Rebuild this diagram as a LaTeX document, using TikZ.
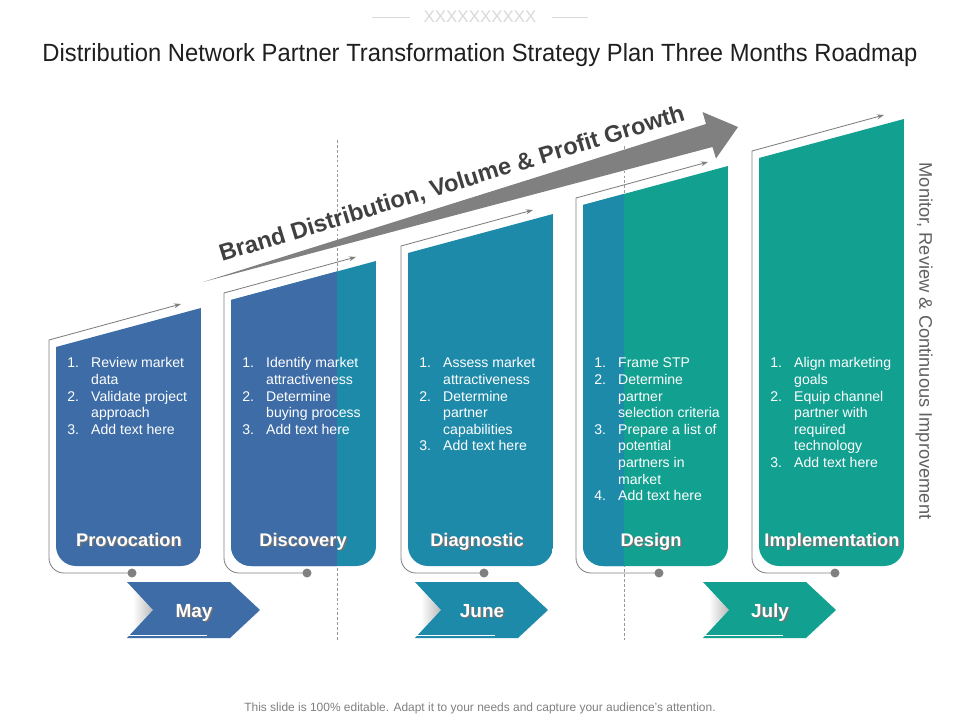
\documentclass[tikz,border=0pt]{standalone}
\usepackage{fontspec}
\setmainfont{Liberation Sans}
\usepackage{tikz}
\usetikzlibrary{arrows.meta}
\definecolor{stageblue}{RGB}{61,108,166}
\definecolor{stagecyan}{RGB}{30,138,170}
\definecolor{stageteal}{RGB}{18,160,144}
\definecolor{flowgray}{RGB}{128,128,128}
\definecolor{headgray}{RGB}{64,64,64}
\newcommand{\shadowed}[1]{\makebox[0pt][l]{\hspace{1.1pt}\raisebox{-1.1pt}{\color{black!55}#1}}#1}

\begin{document}
\begin{tikzpicture}[x=0.025cm, y=-0.025cm,
  listtext/.style={anchor=north west, inner sep=0pt, text=white, font=\fontsize{10}{11.8}\selectfont},
  stagelabel/.style={anchor=base, inner sep=0pt, text=white, font=\bfseries\fontsize{13}{15}\selectfont},
  monthlabel/.style={anchor=base, inner sep=0pt, text=white, font=\bfseries\fontsize{13.5}{15}\selectfont},
  track/.style={draw=flowgray, line width=0.6pt},
  guide/.style={draw=gray!80, line width=0.4pt, dash pattern=on 2pt off 1.5pt}]

\useasboundingbox (0,0) rectangle (960,720);
\fill[white] (0,0) rectangle (960,720);

% Header
\node[text=gray!30, font=\fontsize{12}{13}\selectfont] (mark) at (480,17) {XXXXXXXXXX};
\draw[gray!30] (372,17) -- (410,17);
\draw[gray!30] (552,17) -- (588,17);
\node[text=black!88, font=\fontsize{17.7}{20}\selectfont] (title) at (480,55)
  {\scalebox{0.955}[1]{Distribution Network Partner Transformation Strategy Plan Three Months Roadmap}};

% Month guides
\draw[guide] (337,140) -- (337,640);
\draw[guide] (624,146) -- (624,640);

% Growth arrow
\fill[flowgray] (203,282) -- (706,124) -- (702.5,112) -- (738,127) -- (716,158.5) -- (712.5,147) -- cycle;
\node[anchor=base, rotate=17, text=headgray, font=\bfseries\fontsize{16.8}{19}\selectfont] (growth) at (454,191)
  {Brand Distribution, Volume \& Profit Growth};

% Stages
\foreach \L/\T/\c/\s/\d [count=\i] in {56/347/stageblue/56/stageblue, 231/300/stagecyan/337/stageblue,
    408/253/stagecyan/408/stagecyan, 583/205/stageteal/624/stagecyan, 759/158/stageteal/759/stageteal}{
  \begin{scope}
    \clip (\L,\T) -- (\L+145,\T-39) -- (\L+145,546) arc[start angle=0, end angle=90, radius=20]
      -- (\L+20,566) arc[start angle=90, end angle=180, radius=20] -- cycle;
    \fill[\c] (\L,100) rectangle (\L+145,570);
    \fill[\d] (\L,100) rectangle (\s,570);
  \end{scope}
  \coordinate (dot\i) at (\L+76,573);
  \coordinate (corner\i) at (\L-7,\T-7);
  \coordinate (tip\i) at (\L+125,\T-43);
  \draw[track, -{Stealth[length=5pt, width=3.5pt]}] (dot\i) -- (\L+8,573)
    arc[start angle=90, end angle=180, radius=15] -- (corner\i) -- (tip\i);
  \fill[flowgray] (dot\i) circle[radius=4.5];
}

% Stage lists
\node[listtext] (list1) at (67,356) {\begin{tabular}{@{}p{17pt}@{}l@{}}
  1.&Review market\\ &data\\ 2.&Validate project\\ &approach\\ 3.&Add text here\end{tabular}};
\node[listtext] (list2) at (242,356) {\begin{tabular}{@{}p{17pt}@{}l@{}}
  1.&Identify market\\ &attractiveness\\ 2.&Determine\\ &buying process\\ 3.&Add text here\end{tabular}};
\node[listtext] (list3) at (419,356) {\begin{tabular}{@{}p{17pt}@{}l@{}}
  1.&Assess market\\ &attractiveness\\ 2.&Determine\\ &partner\\ &capabilities\\ 3.&Add text here\end{tabular}};
\node[listtext] (list4) at (594,356) {\begin{tabular}{@{}p{17pt}@{}l@{}}
  1.&Frame STP\\ 2.&Determine\\ &partner\\ &selection criteria\\ 3.&Prepare a list of\\ &potential\\
  &partners in\\ &market\\ 4.&Add text here\end{tabular}};
\node[listtext] (list5) at (770,356) {\begin{tabular}{@{}p{17pt}@{}l@{}}
  1.&Align marketing\\ &goals\\ 2.&Equip channel\\ &partner with\\ &required\\ &technology\\ 3.&Add text here\end{tabular}};

% Stage labels
\node[stagelabel] (lab1) at (129,546) {\shadowed{Provocation}};
\node[stagelabel] (lab2) at (303,546) {\shadowed{Discovery}};
\node[stagelabel] (lab3) at (477,546) {\shadowed{Diagnostic}};
\node[stagelabel] (lab4) at (651,546) {\shadowed{Design}};
\node[stagelabel] (lab5) at (832,546) {\shadowed{Implementation}};

% Months
\foreach \M/\c/\m in {127/stageblue/May, 415/stagecyan/June, 703/stageteal/July}{
  \shade[left color=white, right color=gray!55] (\M+6,590) -- (\M+26,610) -- (\M+6,630) -- cycle;
  \fill[\c] (\M,582) -- (\M+103,582) -- (\M+133,610) -- (\M+103,638) -- (\M,638) -- (\M+26,610) -- cycle;
  \draw[white, line width=0.5pt] (\M+2,635.5) -- (\M+80,635.5);
  \node[monthlabel] (month-\m) at (\M+67,617) {\shadowed{\m}};
}

% Side note and footer
\node[rotate=-90, text=black!62, font=\fontsize{13}{15}\selectfont] (monitor) at (924,341)
  {Monitor, Review \& Continuous Improvement};
\node[text=black!50, font=\fontsize{8.5}{10}\selectfont] (foot) at (480,708)
  {This slide is 100\% editable. Adapt it to your needs and capture your audience's attention.};
\end{tikzpicture}
\end{document}
